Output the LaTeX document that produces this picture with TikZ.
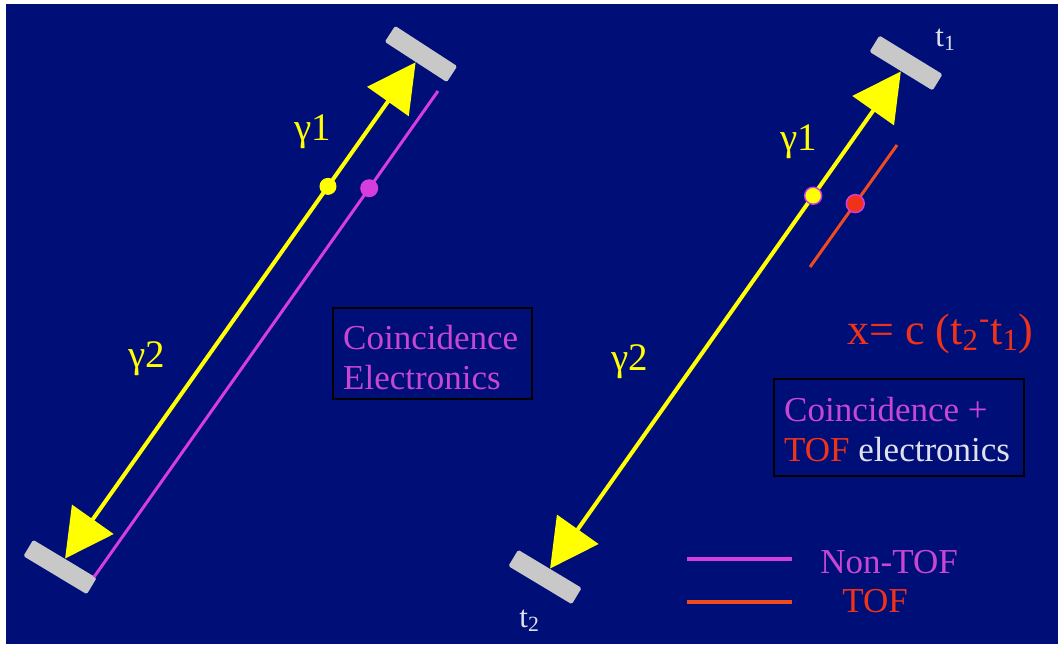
\documentclass[tikz,border=0pt]{standalone}
\usepackage{fontspec}
\setmainfont{Liberation Serif}
\usetikzlibrary{arrows.meta,calc}
\definecolor{bgblue}{RGB}{0,15,120}
\definecolor{detgray}{RGB}{200,200,200}
\definecolor{rayyellow}{RGB}{255,255,0}
\definecolor{nontof}{RGB}{215,60,225}
\definecolor{nontoftext}{RGB}{200,70,210}
\definecolor{tofred}{RGB}{240,50,25}
\definecolor{tofline}{RGB}{240,75,30}
\definecolor{labelwhite}{RGB}{225,225,235}
\tikzset{
  det/.style={fill=detgray, draw=none, minimum width=37pt, minimum height=9.5pt, inner sep=0pt, rounded corners=0.8pt},
  photon/.style={draw=rayyellow, line width=2pt, {Triangle[length=24pt,width=25pt]}-{Triangle[length=24pt,width=25pt]}},
  lor/.style={draw=nontof, line width=1.5pt},
  tofseg/.style={draw=tofline, line width=1.5pt},
  legline/.style={line width=2pt},
  dot/.style={circle, inner sep=0pt, minimum size=8.5pt},
  txt/.style={inner sep=0pt, font=\fontsize{17.5}{20}\selectfont},
  glabel/.style={inner sep=0pt, font=\fontsize{19.5}{22}\selectfont, text=rayyellow, anchor=base west},
  tlabel/.style={inner sep=0pt, text=labelwhite, anchor=base west, font=\fontsize{15.5}{18}\selectfont},
  ebox/.style={draw=black, line width=1.2pt, inner sep=0pt, anchor=north west, font=\fontsize{17.5}{20}\selectfont}
}
\begin{document}
\begin{tikzpicture}[x=0.5pt,y=-0.5pt]
\useasboundingbox (0,0) rectangle (1058,644);
\fill[white] (0,0) rectangle (1058,644);
\fill[bgblue] (6,4) rectangle (1058,644);

% ---------- left panel ----------
\node[det, rotate=-33] (d1) at (421,54) {};
\node[det, rotate=-31] (d2) at (60,567) {};
\draw[photon] (d2.north) -- (d1.south);
\coordinate (m1) at (94,577);
\coordinate (m2) at (438,91);
\draw[lor] (m1) -- (m2);
\node[dot, fill=rayyellow] (yd1) at ($(d2.north)!0.75!(d1.south)$) {};
\node[dot, fill=nontof, minimum size=9pt] (md1) at ($(m1)!0.80!(m2)$) {};
\node[glabel] (g1L) at (294,140) {γ1};
\node[glabel] (g2L) at (128,367) {γ2};
\node[ebox, text=nontoftext] (cbox) at (332,307)
  {\parbox[t][45.5pt][t]{99.5pt}{\hspace*{5pt}\rule{0pt}{20.5pt}Coincidence\\
   \hspace*{5pt}Electronics}};

% ---------- right panel ----------
\node[det, rotate=-31.5] (d3) at (906,63) {};
\node[det, rotate=-31] (d4) at (545,577) {};
\draw[photon] (d4.north) -- (d3.south);
\coordinate (r1) at (810,267);
\coordinate (r2) at (897,145);
\draw[tofseg] (r1) -- (r2);
\node[dot, fill=rayyellow, draw=nontof, line width=0.7pt] (yd2) at ($(d4.north)!0.75!(d3.south)$) {};
\node[dot, fill=tofred, draw=nontof, line width=0.7pt, minimum size=9pt] (rd2) at ($(r1)!0.52!(r2)$) {};
\node[glabel] (g1R) at (780,150) {γ1};
\node[glabel] (g2R) at (611,370) {γ2};
\node[tlabel] (t1) at (935,46) {t\textsubscript{1}};
\node[tlabel] (t2) at (519,627) {t\textsubscript{2}};
\node[inner sep=0pt, anchor=base west, text=tofred, font=\fontsize{22}{26}\selectfont] (eq) at (847,344)
  {x= c (t\textsubscript{2}\textsuperscript{-}t\textsubscript{1})};
\node[ebox] (tbox) at (773,378)
  {\parbox[t][48.5pt][t]{125pt}{\hspace*{5pt}\rule{0pt}{21pt}\textcolor{nontoftext}{Coincidence +}\\
   \hspace*{5pt}\textcolor{tofred}{TOF} \textcolor{labelwhite}{electronics}}};

% ---------- legend ----------
\coordinate (l1a) at (687,559);
\coordinate (l1b) at (792,559);
\coordinate (l2a) at (687,602);
\coordinate (l2b) at (792,602);
\draw[legline, draw=nontof] (l1a) -- (l1b);
\draw[legline, draw=tofline] (l2a) -- (l2b);
\node[txt, text=nontoftext, anchor=base west] (lnon) at (820,573) {Non-TOF};
\node[txt, text=tofred, anchor=base west] (ltof) at (842,612) {TOF};
\end{tikzpicture}
\end{document}
